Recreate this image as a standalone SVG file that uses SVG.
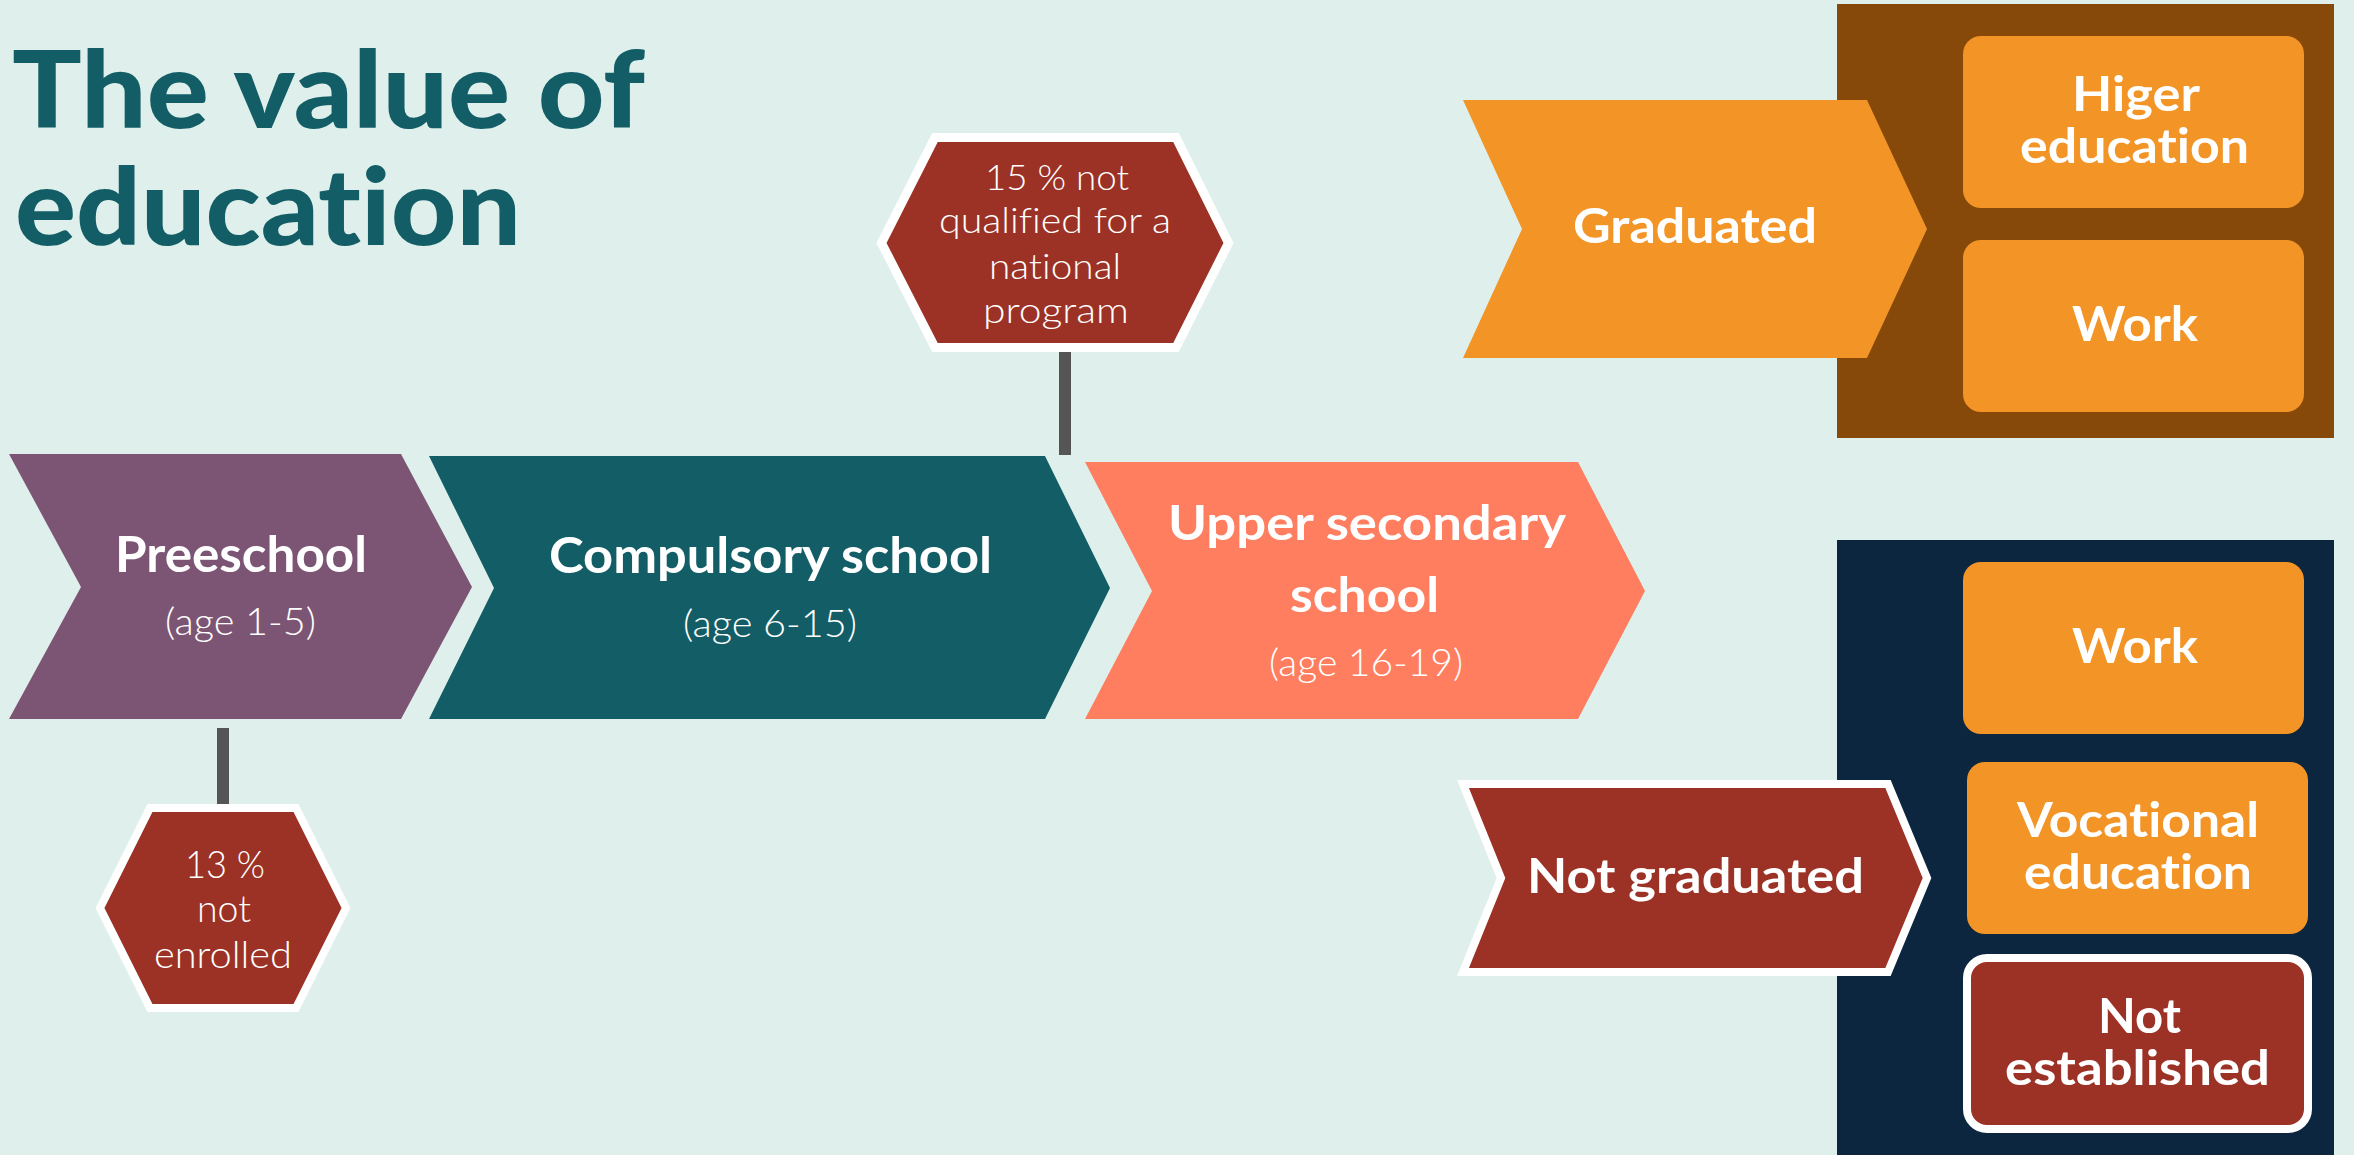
<svg xmlns="http://www.w3.org/2000/svg" width="2354" height="1155" viewBox="0 0 2354 1155">
<style>
text{font-variant-ligatures:none;font-feature-settings:"liga" 0,"clig" 0,"dlig" 0}
.b{font-family:Lato,"Noto Sans","Liberation Sans",sans-serif;font-weight:700;fill:#fff;text-anchor:middle}
.l{font-family:Lato,"Noto Sans","Liberation Sans",sans-serif;font-weight:300;fill:#fff;text-anchor:middle}
.title{font-family:Lato,"Noto Sans","Liberation Sans",sans-serif;font-weight:900;fill:#135E66;font-size:106px}
.hex{fill:#9B3225;stroke:#fff;stroke-width:9}
.box{fill:#F39426}
.conn{stroke:#555555;stroke-width:12}
</style>
<rect width="2354" height="1155" fill="#DFF0EC"/>
<g id="title">
<text class="title" x="12" y="128" textLength="633" lengthAdjust="spacingAndGlyphs">The value of</text>
<text class="title" x="15" y="245" textLength="506" lengthAdjust="spacingAndGlyphs">education</text>
</g>
<g id="connectors">
<line class="conn" x1="223" y1="728" x2="223" y2="805"/>
<line class="conn" x1="1065" y1="352" x2="1065" y2="455"/>
</g>
<g id="preeschool">
<polygon points="9,454 401,454 472,587 401,719 9,719 81,587" fill="#7D5574"/>
<text class="b" x="241" y="572" font-size="49" textLength="252" lengthAdjust="spacingAndGlyphs">Preeschool</text>
<text class="l" x="240.5" y="635" font-size="37" textLength="151" lengthAdjust="spacingAndGlyphs">(age 1-5)</text>
</g>
<g id="compulsory">
<polygon points="429,456 1045,456 1110,588 1045,719 429,719 494,588" fill="#135E66"/>
<text class="b" x="770.5" y="573" font-size="50" textLength="443" lengthAdjust="spacingAndGlyphs">Compulsory school</text>
<text class="l" x="770" y="637" font-size="37" textLength="174" lengthAdjust="spacingAndGlyphs">(age 6-15)</text>
</g>
<g id="upper-secondary">
<polygon points="1085,462 1578,462 1645,591 1578,719 1085,719 1152,591" fill="#FF7E5F"/>
<text class="b" x="1367" y="540" font-size="48" textLength="398" lengthAdjust="spacingAndGlyphs">Upper secondary</text>
<text class="b" x="1364.5" y="612" font-size="48" textLength="149" lengthAdjust="spacingAndGlyphs">school</text>
<text class="l" x="1366" y="676" font-size="37" textLength="194" lengthAdjust="spacingAndGlyphs">(age 16-19)</text>
</g>
<g id="not-qualified">
<polygon class="hex" points="881.5,243 935,137.5 1176,137.5 1228.5,243 1176,347.5 935,347.5"/>
<text class="l" x="1057" y="190" font-size="36" textLength="144" lengthAdjust="spacingAndGlyphs">15 % not</text>
<text class="l" x="1055" y="233" font-size="36" textLength="232" lengthAdjust="spacingAndGlyphs">qualified for a</text>
<text class="l" x="1055" y="279" font-size="36" textLength="132" lengthAdjust="spacingAndGlyphs">national</text>
<text class="l" x="1056" y="323" font-size="36" textLength="146" lengthAdjust="spacingAndGlyphs">program</text>
</g>
<g id="not-enrolled">
<polygon class="hex" style="stroke-width:8" points="100,908 150,808 296,808 346,908 296,1008 150,1008"/>
<text class="l" x="225" y="878" font-size="37" textLength="80" lengthAdjust="spacingAndGlyphs">13 %</text>
<text class="l" x="224" y="922" font-size="37" textLength="54" lengthAdjust="spacingAndGlyphs">not</text>
<text class="l" x="223" y="968" font-size="37" textLength="138" lengthAdjust="spacingAndGlyphs">enrolled</text>
</g>
<g id="graduated-panel">
<rect x="1837" y="4" width="497" height="434" fill="#86490A"/>
</g>
<g id="graduated">
<polygon points="1463,100 1867,100 1927,229 1867,358 1463,358 1522,229" fill="#F39426"/>
<text class="b" x="1695" y="243" font-size="48" textLength="244" lengthAdjust="spacingAndGlyphs">Graduated</text>
</g>
<g id="higher-education">
<rect class="box" x="1963" y="36" width="341" height="172" rx="18"/>
<text class="b" x="2136" y="111" font-size="48" textLength="128" lengthAdjust="spacingAndGlyphs">Higer</text>
<text class="b" x="2134.5" y="163" font-size="48" textLength="229" lengthAdjust="spacingAndGlyphs">education</text>
</g>
<g id="work-graduated">
<rect class="box" x="1963" y="240" width="341" height="172" rx="18"/>
<text class="b" x="2135" y="341" font-size="48" textLength="126" lengthAdjust="spacingAndGlyphs">Work</text>
</g>
<g id="not-graduated-panel">
<rect x="1837" y="540" width="497" height="615" fill="#0C2640"/>
</g>
<g id="work-not-graduated">
<rect class="box" x="1963" y="562" width="341" height="172" rx="18"/>
<text class="b" x="2135" y="663" font-size="48" textLength="126" lengthAdjust="spacingAndGlyphs">Work</text>
</g>
<g id="vocational-education">
<rect class="box" x="1967" y="762" width="341" height="172" rx="18"/>
<text class="b" x="2138" y="837" font-size="48" textLength="242" lengthAdjust="spacingAndGlyphs">Vocational</text>
<text class="b" x="2138" y="889" font-size="48" textLength="228" lengthAdjust="spacingAndGlyphs">education</text>
</g>
<g id="not-established">
<rect x="1967" y="958" width="341" height="171" rx="20" fill="#9B3225" stroke="#fff" stroke-width="8"/>
<text class="b" x="2139.5" y="1033" font-size="48" textLength="83" lengthAdjust="spacingAndGlyphs">Not</text>
<text class="b" x="2137.5" y="1085" font-size="48" textLength="265" lengthAdjust="spacingAndGlyphs">established</text>
</g>
<g id="not-graduated">
<polygon points="1463,784 1888,784 1927,878 1888,972 1463,972 1501,878" fill="#9B3225" stroke="#fff" stroke-width="8"/>
<text class="b" x="1695.5" y="893" font-size="47" textLength="337" lengthAdjust="spacingAndGlyphs">Not graduated</text>
</g>
</svg>
